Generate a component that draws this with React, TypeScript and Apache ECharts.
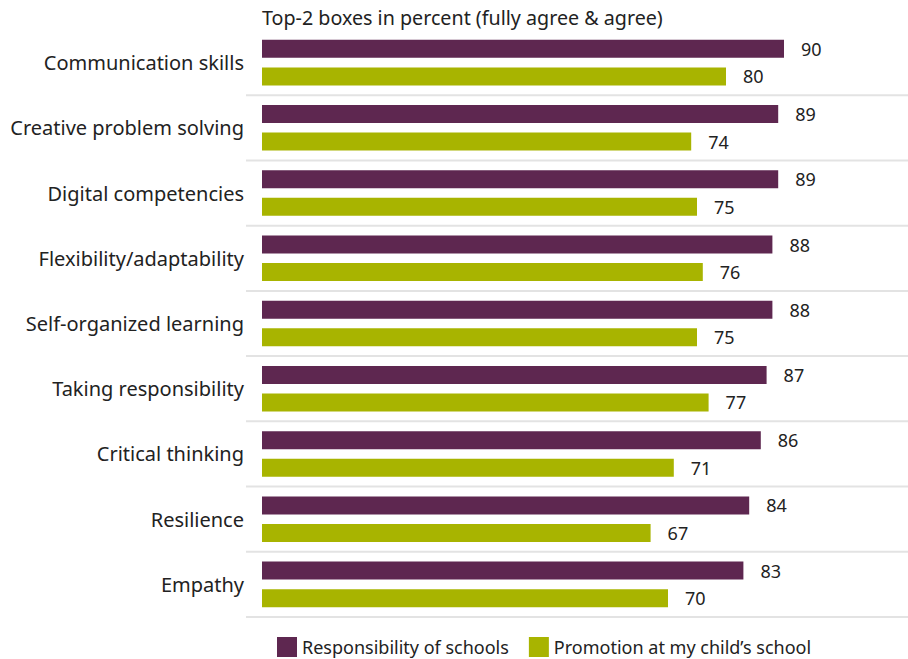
import React, { useEffect, useRef } from "react";
import * as echarts from "echarts";

const categories = [
  "Communication skills",
  "Creative problem solving",
  "Digital competencies",
  "Flexibility/adaptability",
  "Self-organized learning",
  "Taking responsibility",
  "Critical thinking",
  "Resilience",
  "Empathy",
];
const responsibility = [90, 89, 89, 88, 88, 87, 86, 84, 83];
const promotion = [80, 74, 75, 76, 75, 77, 71, 67, 70];
const seriesNames = ["Responsibility of schools", "Promotion at my child’s school"];
const title = "Top-2 boxes in percent (fully agree & agree)";

const FONT = "Noto Sans";
const GRID_TOP = 30;
const GRID_BOTTOM = 42;
const H = 659;

export default function App() {
  const ref = useRef<HTMLDivElement>(null);
  useEffect(() => {
    if (!ref.current) return;
    const chart = echarts.init(ref.current, null, { renderer: "svg" });
    const plotH = H - GRID_TOP - GRID_BOTTOM;
    const band = plotH / categories.length;
    const seps = categories.map((_, i) => ({
      type: "line",
      silent: true,
      shape: { x1: 246, y1: GRID_TOP + (i + 1) * band, x2: 908, y2: GRID_TOP + (i + 1) * band },
      style: { stroke: "#e3e3e3", lineWidth: 2 },
      z: 0,
    }));
    chart.setOption({
      animation: false,
      textStyle: { fontFamily: FONT },
      title: {
        text: title,
        left: 257,
        top: 2,
        textStyle: { fontFamily: FONT, fontSize: 19.7, fontWeight: "normal", color: "#222" },
      },
      legend: {
        bottom: -3,
        left: 272,
        itemWidth: 20,
        itemHeight: 20,
        itemGap: 20,
        icon: "rect",
        textStyle: { fontFamily: FONT, fontSize: 18, color: "#222" },
        data: seriesNames,
      },
      grid: { left: 262, right: 66, top: GRID_TOP, bottom: GRID_BOTTOM, containLabel: false },
      xAxis: {
        type: "value",
        min: 0,
        max: 100,
        show: false,
      },
      yAxis: {
        type: "category",
        data: categories,
        inverse: true,
        axisLine: { show: false },
        axisTick: { show: false },
        splitLine: { show: false },
        axisLabel: { fontFamily: FONT, fontSize: 20, color: "#222", margin: 18 },
      },
      graphic: seps,
      series: [
        {
          name: seriesNames[0],
          type: "bar",
          data: responsibility,
          barWidth: 18,
          barGap: "53%",
          itemStyle: { color: "#5E2750" },
          label: { show: true, position: "right", distance: 17, fontFamily: FONT, fontSize: 18, color: "#222" },
        },
        {
          name: seriesNames[1],
          type: "bar",
          data: promotion,
          barWidth: 18,
          itemStyle: { color: "#A8B400" },
          label: { show: true, position: "right", distance: 17, fontFamily: FONT, fontSize: 18, color: "#222" },
        },
      ],
    });
    return () => chart.dispose();
  }, []);
  return <div ref={ref} style={{ width: 908, height: 659, position: "absolute", left: 0, top: 0 }} />;
}
